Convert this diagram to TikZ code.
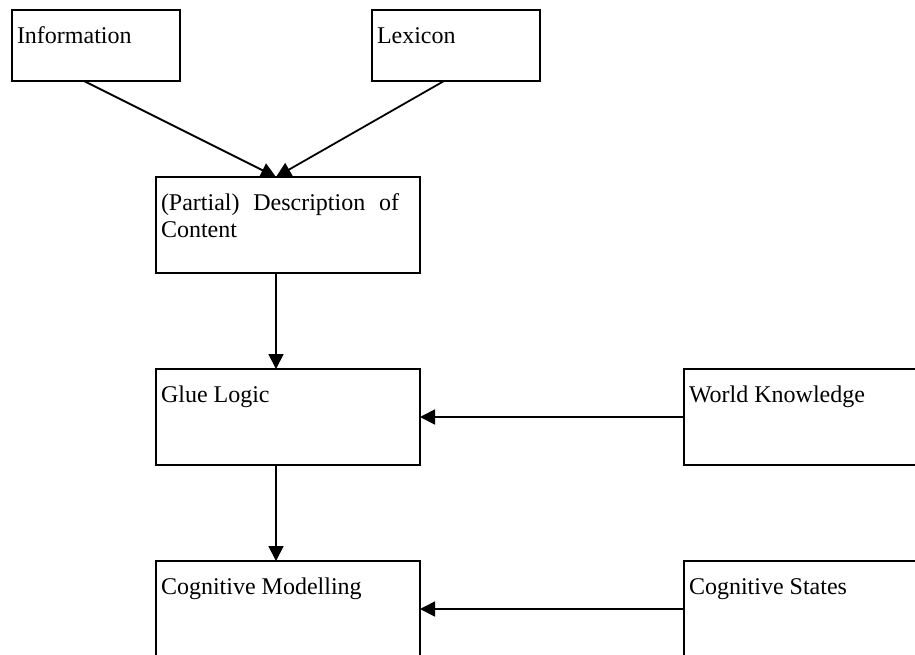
\documentclass[tikz,border=0pt]{standalone}
\usepackage{fontspec}
\setmainfont{Liberation Serif}
\usetikzlibrary{arrows.meta,calc}
\begin{document}
\begin{tikzpicture}[x=1pt,y=-1pt,
  box/.style={draw,line width=2pt,inner sep=0pt,outer sep=0pt,anchor=north west},
  lbl/.style={inner sep=0pt,outer sep=0pt,anchor=base west,font=\fontsize{24}{27.6}\selectfont},
  conn/.style={line width=1.8pt,-{Triangle[length=15pt,width=15pt]}}]
\useasboundingbox (0,0) rectangle (915,654);
\clip (0,0) rectangle (915,654);
% boxes
\node[box,minimum width=168pt,minimum height=71pt] (info) at (12,10) {};
\node[box,minimum width=168pt,minimum height=71pt] (lex) at (372,10) {};
\node[box,minimum width=264pt,minimum height=96pt] (desc) at (156,177) {};
\node[box,minimum width=264pt,minimum height=96pt] (glue) at (156,369) {};
\node[box,minimum width=264pt,minimum height=96pt] (cog) at (156,561) {};
\node[box,minimum width=264pt,minimum height=96pt] (wk) at (684,369) {};
\node[box,minimum width=264pt,minimum height=96pt] (cs) at (684,561) {};
% labels
\node[lbl] (infot) at (17,43) {Information};
\node[lbl] (lext) at (377,43) {Lexicon};
\node[lbl] (desct1) at (161,210) {\makebox[238pt][s]{(Partial) Description of}};
\node[lbl] (desct2) at (161,237.5) {Content};
\node[lbl] (gluet) at (161,402) {Glue Logic};
\node[lbl] (cogt) at (161,594) {Cognitive Modelling};
\node[lbl] (wkt) at (689,402) {World Knowledge};
\node[lbl] (cst) at (689,594) {Cognitive States};
% connector anchor points
\coordinate (infoout) at (84,81);
\coordinate (lexout) at (444,81);
\coordinate (descin) at (276,177);
\coordinate (descout) at (276,273);
\coordinate (gluein) at (276,369);
\coordinate (glueout) at (276,465);
\coordinate (cogin) at (276,561);
\coordinate (wkout) at (684,417);
\coordinate (gluer) at (420,417);
\coordinate (csout) at (684,609);
\coordinate (cogr) at (420,609);
% connectors
\draw[conn] (infoout) -- (descin);
\draw[conn] (lexout) -- (descin);
\draw[conn] (descout) -- (gluein);
\draw[conn] (glueout) -- (cogin);
\draw[conn] (wkout) -- (gluer);
\draw[conn] (csout) -- (cogr);
\end{tikzpicture}
\end{document}
